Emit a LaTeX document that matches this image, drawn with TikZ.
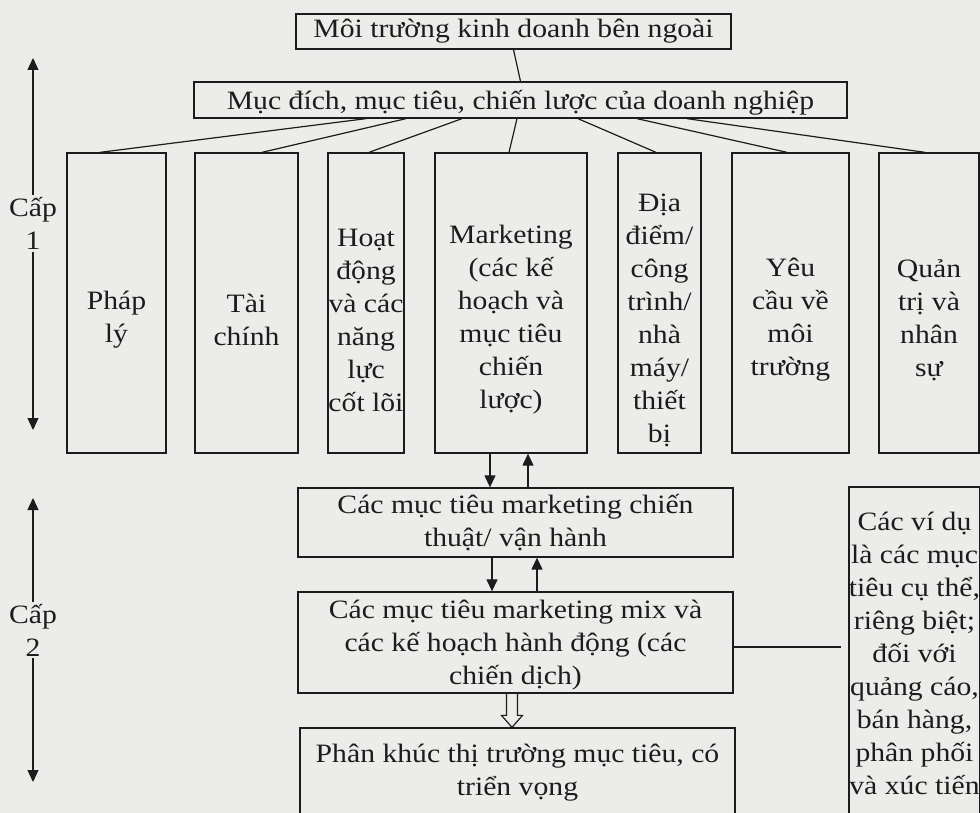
\documentclass[tikz,border=0pt]{standalone}
\usepackage{fontspec}
\setmainfont{Liberation Serif}[FakeStretch=1.12]
\usetikzlibrary{arrows.meta,calc}
\definecolor{paper}{RGB}{236,236,234}
\definecolor{ink}{RGB}{28,28,28}
\begin{document}
\begin{tikzpicture}[x=1pt,y=-1pt,
  every node/.style={font=\fontsize{26.5}{33}\selectfont, text=ink},
  box/.style={draw=ink, line width=1.3pt, inner sep=0pt, align=center},
  tall/.style={box, minimum height=300},
  txt/.style={align=center, inner sep=0pt},
  conn/.style={draw=ink, line width=1.2pt},
  arr/.style={conn, -{Triangle[length=12pt,width=11pt]}},
  lvl/.style={align=center, inner sep=2pt}
]
\useasboundingbox (0,0) rectangle (980,813);
\clip (0,0) rectangle (980,813);
\fill[paper] (0,0) rectangle (980,813);

% top boxes
\node[box, minimum width=435, minimum height=35] (env) at (513.5,31.5) {Môi trường kinh doanh bên ngoài};
\node[box, minimum width=653, minimum height=36,
  label={[txt, yshift=-3pt]center:{Mục đích, mục tiêu, chiến lược của doanh nghiệp}}] (goal) at (520.5,100) {};

% level-1 boxes
\node[tall, minimum width=99,  label={[txt, yshift=-17pt]center:{Pháp\\lý}}] (phaply) at (116.5,303) {};
\node[tall, minimum width=103, label={[txt, yshift=-17pt]center:{Tài\\chính}}] (taichinh) at (246.5,303) {};
\node[tall, minimum width=76,  label={[txt, yshift=-17pt]center:{Hoạt\\động\\và các\\năng\\lực\\cốt lõi}}] (hoatdong) at (366,303) {};
\node[tall, minimum width=152, label={[txt, yshift=-17pt]center:{Marketing\\(các kế\\hoạch và\\mục tiêu\\chiến\\lược)}}] (mkt) at (511,303) {};
\node[tall, minimum width=83,  label={[txt, yshift=-17pt]center:{Địa\\điểm/\\công\\trình/\\nhà\\máy/\\thiết\\bị}}] (diadiem) at (659.5,303) {};
\node[tall, minimum width=117, label={[txt, yshift=-17pt]center:{Yêu\\cầu về\\môi\\trường}}] (yeucau) at (790.5,303) {};
\node[tall, minimum width=100, label={[txt, yshift=-17pt]center:{Quản\\trị và\\nhân\\sự}}] (quantri) at (929,303) {};

% level-2 boxes
\node[box, minimum width=435, minimum height=69]  (tact) at (515.5,522.5) {Các mục tiêu marketing chiến\\thuật/ vận hành};
\node[box, minimum width=435, minimum height=101,
  label={[txt, yshift=-3pt]center:{Các mục tiêu marketing mix và\\các kế hoạch hành động (các\\chiến dịch)}}] (mix) at (515.5,642.5) {};
\node[box, minimum width=435, minimum height=90]  (seg)  at (517.5,773)   {Phân khúc thị trường mục tiêu, có\\triển vọng};
\node[box, minimum width=129, minimum height=333] (ex)   at (914.5,653.5) {Các ví dụ\\là các mục\\tiêu cụ thể,\\riêng biệt;\\đối với\\quảng cáo,\\bán hàng,\\phân phối\\và xúc tiến};

% connectors
\draw[conn] (env.south) -- (goal.north);
\draw[conn] ([xshift=-154.5]goal.south) -- ([xshift=-16.5]phaply.north);
\draw[conn] ([xshift=-114.5]goal.south) -- ([xshift=15.5]taichinh.north);
\draw[conn] ([xshift=-58.5]goal.south)  -- ([xshift=3]hoatdong.north);
\draw[conn] ([xshift=-3.5]goal.south)   -- ([xshift=-2]mkt.north);
\draw[conn] ([xshift=57.5]goal.south)   -- ([xshift=-3.5]diadiem.north);
\draw[conn] ([xshift=116.5]goal.south)  -- ([xshift=-3.5]yeucau.north);
\draw[conn] ([xshift=166.5]goal.south)  -- ([xshift=-4]quantri.north);

\draw[arr] ([xshift=-21]mkt.south) -- ([xshift=-21]mkt.south |- tact.north);
\draw[arr] ([xshift=17]mkt.south |- tact.north) -- ([xshift=17]mkt.south);
\draw[arr] ([xshift=-23.5]tact.south) -- ([xshift=-23.5]tact.south |- mix.north);
\draw[arr] ([xshift=21.5]tact.south |- mix.north) -- ([xshift=21.5]tact.south);

% hollow arrow mix -> seg
\coordinate (ha) at ([xshift=-3.5]mix.south);
\coordinate (hb) at (ha |- seg.north);
\draw[ink, line width=1.2pt, line join=miter]
  ($(ha)+(-5.5,0)$) -- ($(hb)+(-5.5,-12)$) -- ($(hb)+(-10.5,-12)$) -- (hb)
  -- ($(hb)+(10.5,-12)$) -- ($(hb)+(5.5,-12)$) -- ($(ha)+(5.5,0)$);

\draw[conn, shorten >=7pt] ([yshift=-4.5pt]mix.east) -- ([yshift=-4.5pt]mix.east -| ex.west);

% level labels
\node[lvl] (cap1) at (33,223.5) {Cấp\\1};
\coordinate (c1t) at (33,58);
\coordinate (c1b) at (33,430);
\draw[arr] (cap1.north) -- (c1t);
\draw[arr] (cap1.south) -- (c1b);

\node[lvl] (cap2) at (33,630) {Cấp\\2};
\coordinate (c2t) at (33,498);
\coordinate (c2b) at (33,782);
\draw[arr] (cap2.north) -- (c2t);
\draw[arr] (cap2.south) -- (c2b);
\end{tikzpicture}
\end{document}
